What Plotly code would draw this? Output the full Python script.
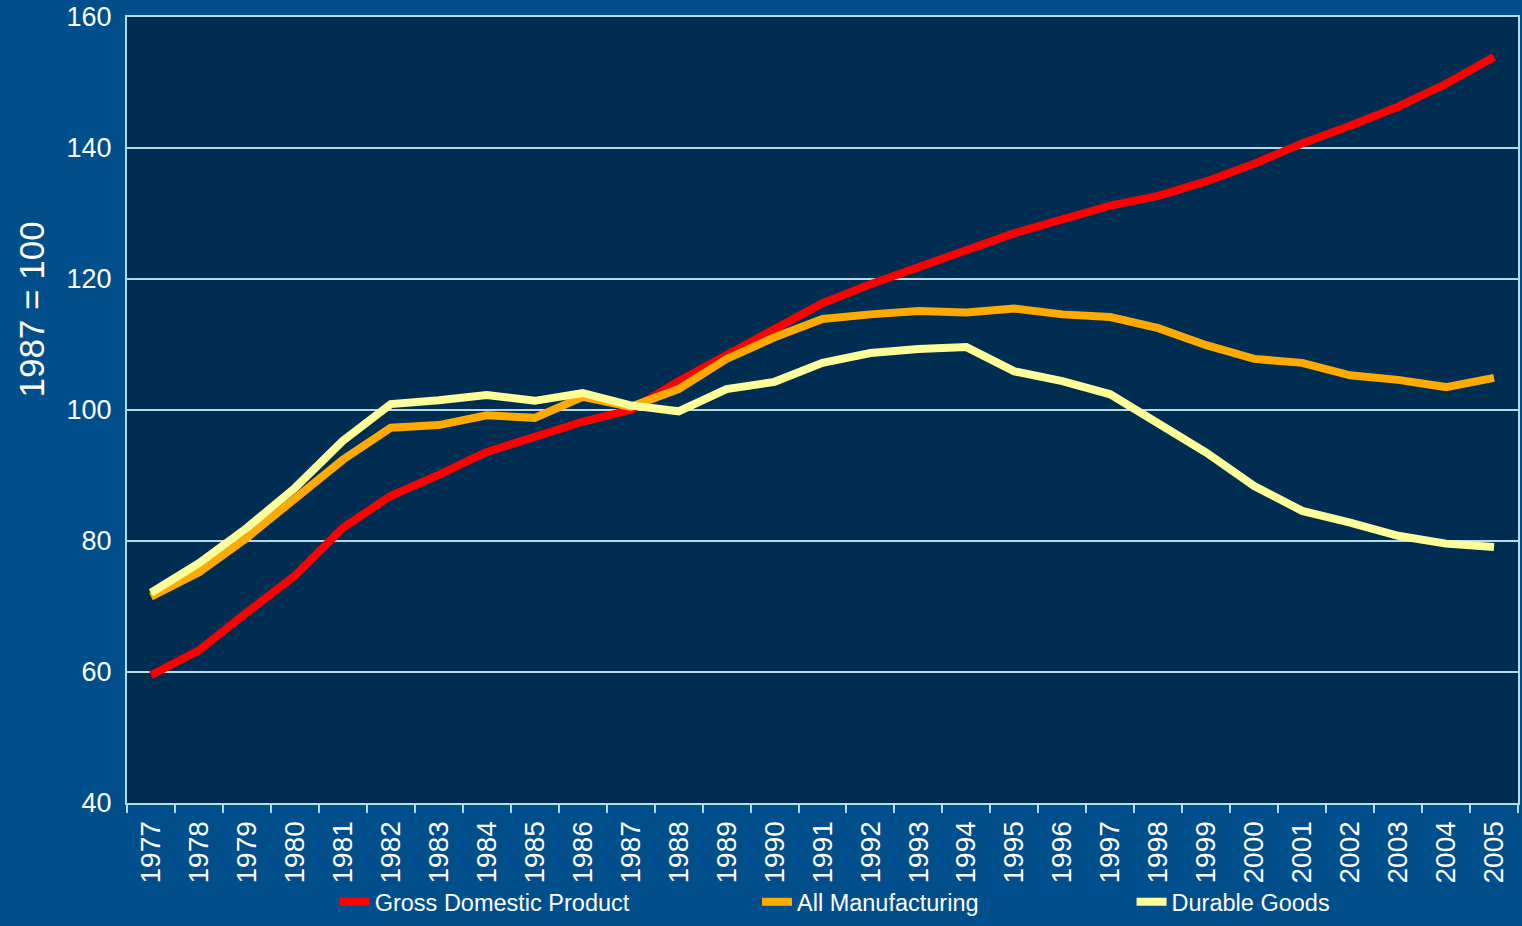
import plotly.graph_objects as go

years = [str(y) for y in range(1977, 2006)]

gdp = [59.5, 63.3, 69.1, 74.7, 82.0, 86.9, 90.1, 93.6, 95.9, 98.2, 100.0,
       104.4, 108.4, 112.5, 116.3, 119.2, 121.8, 124.5, 127.0, 129.1, 131.2,
       132.7, 134.9, 137.6, 140.7, 143.4, 146.3, 149.8, 153.9]

manufacturing = [71.5, 75.2, 80.5, 86.6, 92.4, 97.3, 97.7, 99.2, 98.8, 102.0, 100.5,
                 103.2, 107.8, 111.1, 113.9, 114.6, 115.1, 114.9, 115.5, 114.6, 114.2,
                 112.5, 109.9, 107.8, 107.2, 105.3, 104.6, 103.5, 104.9]

durable = [72.1, 76.6, 82.0, 88.1, 95.3, 100.9, 101.5, 102.3, 101.4, 102.6, 100.7,
           99.8, 103.2, 104.3, 107.2, 108.7, 109.3, 109.6, 105.9, 104.4, 102.4,
           97.9, 93.5, 88.4, 84.6, 82.8, 80.8, 79.6, 79.1]

y_ticks = [40, 60, 80, 100, 120, 140, 160]

FONT = "Liberation Sans, Arial, sans-serif"
GRID = "#b4dce2"

fig = go.Figure()
fig.add_trace(go.Scatter(x=years, y=gdp, mode="lines", name="Gross Domestic Product",
                         line=dict(color="#ff0000", width=8), legend="legend"))
fig.add_trace(go.Scatter(x=years, y=manufacturing, mode="lines", name="All Manufacturing",
                         line=dict(color="#ffaa00", width=8), legend="legend2"))
fig.add_trace(go.Scatter(x=years, y=durable, mode="lines", name="Durable Goods",
                         line=dict(color="#ffff99", width=8), legend="legend3"))

leg_common = dict(orientation="h", xanchor="left", y=-0.154, yanchor="bottom",
                  font=dict(size=23.5, color="white", family=FONT),
                  bgcolor="rgba(0,0,0,0)")

fig.update_layout(
    width=1522, height=926,
    paper_bgcolor="#004f8c",
    plot_bgcolor="#002d52",
    margin=dict(l=127, r=2, t=15, b=123),
    font=dict(family=FONT, color="white", size=24),
    showlegend=True,
    legend=dict(x=0.1493, **leg_common),
    legend2=dict(x=0.4529, **leg_common),
    legend3=dict(x=0.7222, **leg_common),
    xaxis=dict(
        type="category", tickangle=-90, tickson="boundaries",
        ticks="outside", ticklen=8, tickcolor=GRID, tickwidth=2,
        showline=True, linecolor=GRID, linewidth=2, mirror=True,
        showgrid=False, tickfont=dict(size=28, color="white"),
        ticklabelstandoff=5,
        range=[-0.5, 28.5],
    ),
    yaxis=dict(
        range=[40, 160], tickvals=y_ticks, showgrid=True, gridcolor=GRID, gridwidth=2,
        showline=True, linecolor=GRID, linewidth=2, mirror=True, zeroline=False,
        ticks="", tickfont=dict(size=27, color="white"), ticklabelstandoff=8,
    ),
    annotations=[dict(text="1987 = 100", textangle=-90, xref="paper", yref="paper",
                      x=-0.0689, y=0.628, xanchor="center", yanchor="middle",
                      showarrow=False, font=dict(size=35, color="white", family=FONT))],
)

fig.write_html("out.html", config={"displayModeBar": False},
               post_script="document.body.style.margin='0px';document.body.style.padding='0px';")
